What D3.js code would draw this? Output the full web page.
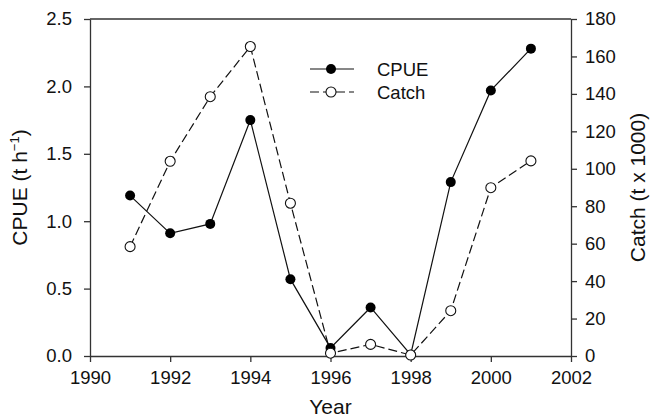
<!DOCTYPE html>
<html>
<head>
<meta charset="utf-8">
<script src="https://cdn.jsdelivr.net/npm/d3@7"></script>
<style>
  body { margin: 0; background: #fff; }
  svg text { font-family: "Liberation Sans", Arial, sans-serif; fill: #111; }
</style>
</head>
<body>
<svg id="chart" width="651" height="418"></svg>
<script>
// data
var years = [1991, 1992, 1993, 1994, 1995, 1996, 1997, 1998, 1999, 2000, 2001];
var cpue  = [1.19, 0.91, 0.98, 1.75, 0.57, 0.06, 0.36, 0.01, 1.29, 1.97, 2.28];
var catchT = [58.4, 104, 138.5, 165.3, 81.6, 1.5, 6.2, 0.5, 24.2, 89.9, 104.2];
var xTicks = [1990, 1992, 1994, 1996, 1998, 2000, 2002];
var yLeftTicks = [0, 0.5, 1.0, 1.5, 2.0, 2.5];
var yRightTicks = [0, 20, 40, 60, 80, 100, 120, 140, 160, 180];

var L = 90, R = 571, T = 19, B = 356;
var svg = d3.select('#chart');

var x = d3.scaleLinear().domain([1990, 2002]).range([L, R]);
var yL = d3.scaleLinear().domain([0, 2.5]).range([B, T]);
var yR = d3.scaleLinear().domain([0, 180]).range([B, T]);

function styleAxis(g) {
    g.selectAll('path').attr('stroke', '#333').attr('stroke-width', 1.3);
    g.selectAll('line').attr('stroke', '#333').attr('stroke-width', 1.3);
    g.selectAll('text').style('font-size', '18.5px').attr('fill', '#111');
}

// top frame
svg.append('line')
    .attr('x1', L).attr('x2', R).attr('y1', T).attr('y2', T)
    .attr('stroke', '#333').attr('stroke-width', 1.3);

svg.append('g')
    .attr('transform', 'translate(0,' + B + ')')
    .call(d3.axisBottom(x).tickValues(xTicks).tickFormat(d3.format('d')).tickSize(6).tickSizeOuter(0).tickPadding(9))
    .call(styleAxis);

svg.append('g')
    .attr('transform', 'translate(' + L + ',0)')
    .call(d3.axisLeft(yL).tickValues(yLeftTicks).tickFormat(d3.format('.1f')).tickSize(6).tickSizeOuter(0).tickPadding(12))
    .call(styleAxis);

svg.append('g')
    .attr('transform', 'translate(' + R + ',0)')
    .call(d3.axisRight(yR).tickValues(yRightTicks).tickFormat(d3.format('d')).tickSize(6).tickSizeOuter(0).tickPadding(8))
    .call(styleAxis);

// axis titles
svg.append('text')
    .attr('x', (L + R) / 2).attr('y', 414)
    .attr('text-anchor', 'middle')
    .style('font-size', '21px')
    .text('Year');

var lt = svg.append('text')
    .attr('transform', 'translate(27,' + ((T + B) / 2) + ') rotate(-90)')
    .attr('text-anchor', 'middle')
    .style('font-size', '21px');
lt.append('tspan').text('CPUE (t h');
lt.append('tspan').attr('dy', -8).style('font-size', '13px').text('\u22121');
lt.append('tspan').attr('dy', 8).text(')');

svg.append('text')
    .attr('transform', 'translate(645,' + ((T + B) / 2) + ') rotate(-90)')
    .attr('text-anchor', 'middle')
    .style('font-size', '21px')
    .text('Catch (t x 1000)');

var cpueData = years.map(function(d, i) { return [d, cpue[i]]; });
var catchData = years.map(function(d, i) { return [d, catchT[i]]; });

// catch: dashed, open circles
svg.append('path')
    .datum(catchData)
    .attr('fill', 'none')
    .attr('stroke', '#111')
    .attr('stroke-width', 1.2)
    .attr('stroke-dasharray', '9,4')
    .attr('d', d3.line().x(function(d) { return x(d[0]); }).y(function(d) { return yR(d[1]); }));

// cpue: solid, filled
svg.append('path')
    .datum(cpueData)
    .attr('fill', 'none')
    .attr('stroke', '#111')
    .attr('stroke-width', 1.2)
    .attr('d', d3.line().x(function(d) { return x(d[0]); }).y(function(d) { return yL(d[1]); }));

svg.selectAll('circle.cp')
    .data(cpueData)
  .enter().append('circle')
    .attr('class', 'cp')
    .attr('cx', function(d) { return x(d[0]); })
    .attr('cy', function(d) { return yL(d[1]); })
    .attr('r', 5)
    .attr('fill', '#000');

svg.selectAll('circle.ct')
    .data(catchData)
  .enter().append('circle')
    .attr('class', 'ct')
    .attr('cx', function(d) { return x(d[0]); })
    .attr('cy', function(d) { return yR(d[1]); })
    .attr('r', 5)
    .attr('fill', '#fff')
    .attr('stroke', '#111')
    .attr('stroke-width', 1.1);

// legend
var lg = svg.append('g');
lg.append('line').attr('x1', 310).attr('x2', 354).attr('y1', 69).attr('y2', 69)
    .attr('stroke', '#111').attr('stroke-width', 1.2);
lg.append('circle').attr('cx', 331).attr('cy', 69).attr('r', 5).attr('fill', '#000');
lg.append('text').attr('x', 377).attr('y', 76).style('font-size', '18.5px').text('CPUE');

lg.append('line').attr('x1', 310).attr('x2', 354).attr('y1', 92).attr('y2', 92)
    .attr('stroke', '#111').attr('stroke-width', 1.2).attr('stroke-dasharray', '9,4');
lg.append('circle').attr('cx', 331).attr('cy', 92).attr('r', 5)
    .attr('fill', '#fff').attr('stroke', '#111').attr('stroke-width', 1.1);
lg.append('text').attr('x', 377).attr('y', 99).style('font-size', '18.5px').text('Catch');
</script>
</body>
</html>
